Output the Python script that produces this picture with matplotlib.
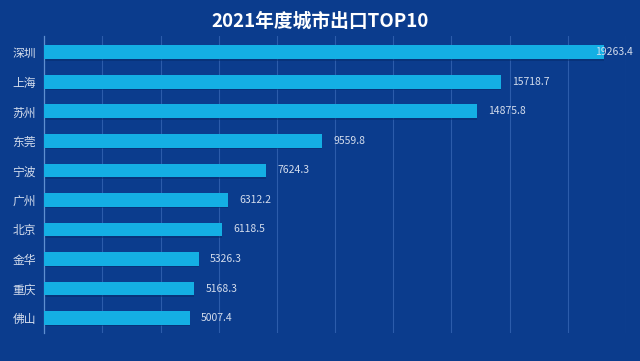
import matplotlib.pyplot as plt
import numpy as np

cities = ["深圳", "上海", "苏州", "东莞", "宁波", "广州", "北京", "金华", "重庆", "佛山"]
exports = [19263.4, 15718.7, 14875.8, 9559.8, 7624.3, 6312.2, 6118.5, 5326.3, 5168.3, 5007.4]
title = "2021年度城市出口TOP10"

bg = "#0b3c8d"
bar_color = "#14afe4"
text_color = "#d3dcec"

plt.rcParams["font.family"] = ["Noto Sans CJK SC", "DejaVu Sans"]

fig = plt.figure(figsize=(6.4, 3.61), dpi=100, facecolor=bg)
ax = fig.add_axes([0.069, 0.078, 0.909, 0.822], facecolor=bg)

y = np.arange(len(cities))
# soft shadow under each bar
ax.barh(y + 0.05, exports, height=0.47, color="#072c6a", alpha=0.5, zorder=2)
ax.barh(y, exports, height=0.47, color=bar_color, zorder=3)

ax.set_xlim(0, 20000)
ax.set_ylim(len(cities) - 0.5, -0.55)
ax.set_xticks(np.arange(0, 20001, 2000))
ax.set_xticklabels([])
ax.tick_params(axis="x", length=0)
ax.tick_params(axis="y", length=0, pad=6, labelsize=8.5, labelcolor=text_color)
ax.set_yticks(y)
ax.set_yticklabels(cities)
ax.grid(axis="x", color="#2c5cab", linewidth=0.8, zorder=1)

for side in ["top", "right", "bottom"]:
    ax.spines[side].set_visible(False)
ax.spines["left"].set_color("#5f8fd0")
ax.spines["left"].set_linewidth(0.9)

# value labels, the longest one is pulled back so it stays inside the figure
for i, v in enumerate(exports):
    off = -7 if v > 0.95 * ax.get_xlim()[1] else 8
    ax.annotate(f"{v}", xy=(v, i), xytext=(off, 0), textcoords="offset points",
                ha="left", va="center", fontsize=7.5, color=text_color, zorder=4)

fig.text(0.5, 0.94, title, ha="center", va="center", fontsize=13.5,
         fontweight="bold", color="white")

fig.savefig("out.png", dpi=100, facecolor=bg)
